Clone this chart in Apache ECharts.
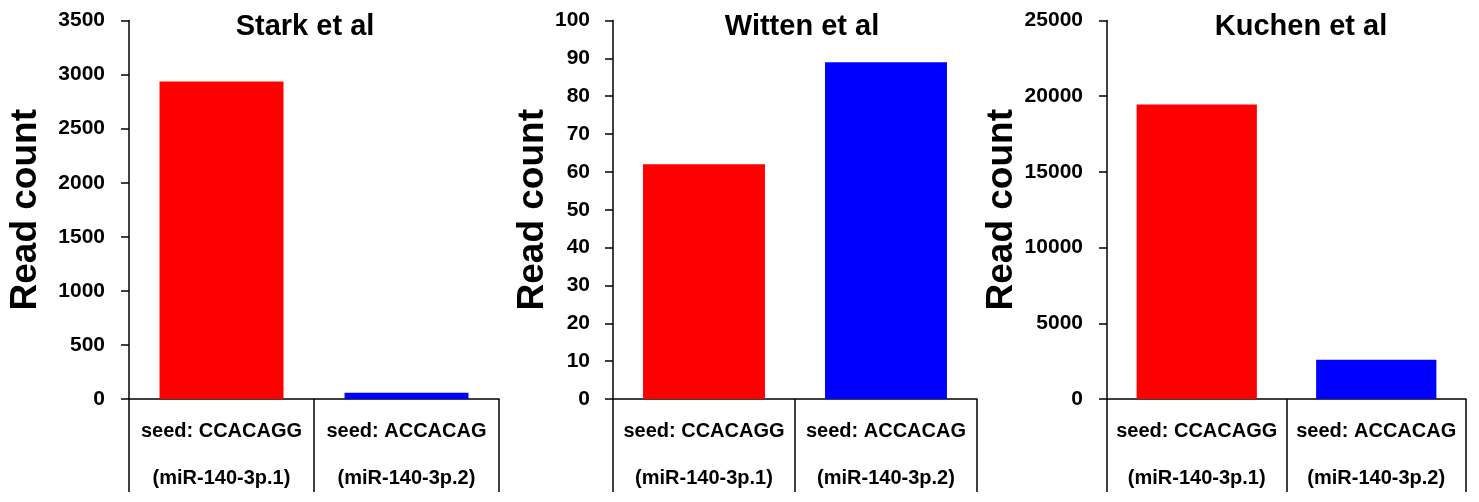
<!DOCTYPE html>
<html>
<head>
<meta charset="utf-8">
<script src="https://cdn.jsdelivr.net/npm/echarts@6/dist/echarts.min.js"></script>
<style>html,body{margin:0;padding:0;background:#fff}#c{width:1479px;height:502px}</style>
</head>
<body>
<div id="c"></div>
<script>
const categories = ['seed: CCACAGG\n(miR-140-3p.1)', 'seed: ACCACAG\n(miR-140-3p.2)'];
const panelTitles = ['Stark et al', 'Witten et al', 'Kuchen et al'];
const starkValues = [2935, 58];
const wittenValues = [62, 89];
const kuchenValues = [19450, 2600];
const yMax = [3500, 100, 25000];
const yInterval = [500, 10, 5000];
const barColors = ['#FF0000', '#0000FF'];

const FONT = '"Liberation Sans", Arial, sans-serif';
const panels = [starkValues, wittenValues, kuchenValues];
const grids = [
  {left: 129, width: 370},
  {left: 613, width: 364},
  {left: 1107, width: 359}
];
const titleX = [300, 797, 1296];
const nameGaps = [85, 48, 75];
const labelMargins = [24, 23, 24];

const option = {
  animation: false,
  backgroundColor: '#fff',
  title: panelTitles.map((t, i) => ({
    text: t, left: titleX[i], top: 7, textAlign: 'center',
    textStyle: {fontFamily: FONT, fontWeight: 'bold', fontSize: 29, color: '#000'}
  })),
  grid: grids.map(g => ({left: g.left, width: g.width, top: 20.5, height: 380, containLabel: false})),
  xAxis: grids.map((g, i) => ({
    type: 'category', gridIndex: i, data: categories,
    axisLine: {show: true, lineStyle: {color: '#000', width: 1.5}},
    axisTick: {show: true, alignWithLabel: false, length: 93, lineStyle: {color: '#000', width: 1.5}},
    axisLabel: {
      interval: 0, margin: 9, color: '#000', fontFamily: FONT, fontWeight: 'bold',
      fontSize: 20, lineHeight: 47
    },
    splitLine: {show: false}
  })),
  yAxis: grids.map((g, i) => ({
    type: 'value', gridIndex: i, min: 0, max: yMax[i], interval: yInterval[i],
    name: 'Read count', nameLocation: 'middle', nameRotate: 90, nameGap: nameGaps[i],
    nameTextStyle: {fontFamily: FONT, fontWeight: 'bold', fontSize: 37, color: '#000'},
    axisLine: {show: true, lineStyle: {color: '#000', width: 1.5}},
    axisTick: {show: true, inside: false, length: 8, lineStyle: {color: '#000', width: 1.5}},
    axisLabel: {margin: labelMargins[i], color: '#000', fontFamily: FONT, fontWeight: 'bold', fontSize: 21,
      formatter: v => String(v)},
    splitLine: {show: false}
  })),
  series: panels.map((vals, i) => ({
    type: 'bar', xAxisIndex: i, yAxisIndex: i, barCategoryGap: '33%',
    data: vals.map((v, j) => ({value: v, itemStyle: {color: barColors[j]}}))
  }))
};
echarts.init(document.getElementById('c'), null, {renderer: 'canvas'}).setOption(option);
</script>
</body>
</html>
